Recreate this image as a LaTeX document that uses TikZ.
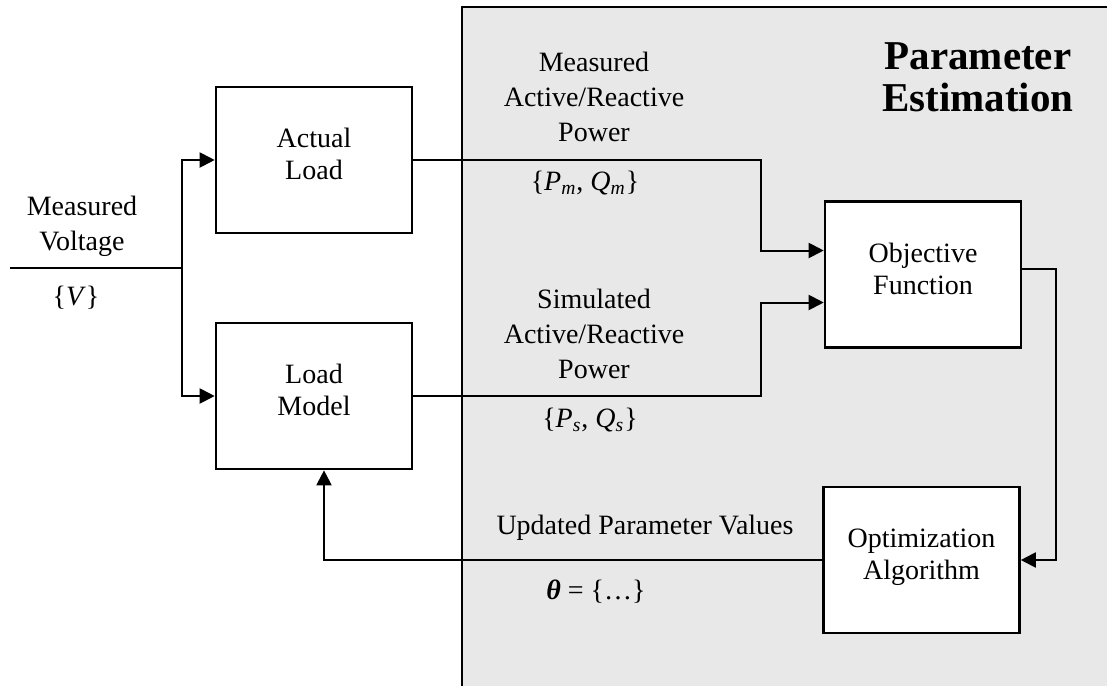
\documentclass[tikz,border=0pt]{standalone}
\usepackage{fontspec}
\setmainfont{Liberation Serif}
\usetikzlibrary{arrows.meta}
\definecolor{estgray}{RGB}{232,232,232}

\begin{document}
\begin{tikzpicture}
    [x=0.5pt, y=-0.5pt,
    line width=1pt,
    >={Triangle[length=7.5pt, width=7.5pt]},
    block/.style={draw, line width=1.3pt, fill=white, minimum width=98pt, minimum height=73pt, align=center, text depth=6pt, font=\fontsize{14}{16}\selectfont},
    txt/.style={align=center, font=\fontsize{14}{17.5}\selectfont}]
        \useasboundingbox (0,0) rectangle (1107,686);
        %% Estimation area
        \fill[estgray] (462,7) rectangle (1107,686);
        \draw[line width=1.2pt] (1107,7) -- (462,7) -- (462,686);
        \node[font=\fontsize{20.5}{21}\selectfont\bfseries, align=center] (PE) at (978,77) {Parameter\\Estimation};

        %% Blocks
        \node[block] (AL) at (314,160) {Actual\\Load};
        \node[block, node distance=118pt, below of = AL] (LM) {Load\\Model};
        \node[block] (OF) at (923,274.5) {Objective\\Function};
        \node[block] (OA) at (921.5,560) {Optimization\\Algorithm};

        %% Signals
        \coordinate (V) at (10,268);
        \coordinate (S) at (182,268);
        \draw (V) -- (S);
        \draw[->] (S) |- (AL.west);
        \draw[->] (S) |- (LM.west);
        \draw[->] (AL.east) -- ++(348,0) |- ([yshift=12pt]OF.west);
        \draw[->] (LM.east) -- ++(348,0) |- ([yshift=-14pt]OF.west);
        \draw[->] ([yshift=3pt]OF.east) -- ++(34,0) |- (OA.east);
        \draw[->] (OA.west) -| ([xshift=5pt]LM.south);

        %% Labels
        \node[txt] (MV) at (82,226) {Measured\\Voltage};
        \node[txt] (Vset) at (76,298) {\{\textit{V}\}};
        \node[txt] (MP) at (594,97) {Measured\\Active/Reactive\\Power};
        \node[txt] (Pm) at (585,183) {\{\textit{P}\textsubscript{\textit{m}}, \textit{Q}\textsubscript{\textit{m}}\}};
        \node[txt] (SP) at (594,334) {Simulated\\Active/Reactive\\Power};
        \node[txt] (Ps) at (590,420) {\{\textit{P}\textsubscript{\textit{s}}, \textit{Q}\textsubscript{\textit{s}}\}};
        \node[txt] (UP) at (645,528) {Updated Parameter Values};
        \node[txt] (TH) at (596,592) {{\bfseries\itshape θ} = \{…\}};
\end{tikzpicture}
\end{document}
